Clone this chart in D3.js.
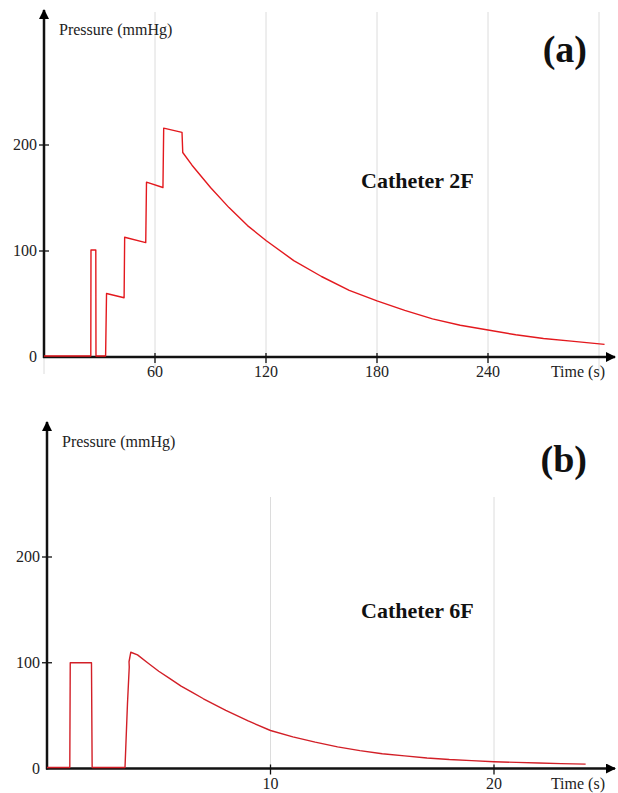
<!DOCTYPE html>
<html>
<head>
<meta charset="utf-8">
<script src="https://cdn.jsdelivr.net/npm/d3@7"></script>
<style>
  body { margin: 0; background: #fff; }
  svg { display: block; font-family: "Liberation Serif", "Times New Roman", serif; }
</style>
</head>
<body>
<svg id="chart" width="618" height="793"></svg>
<script>
// panel (a): catheter 2F, time in s, pressure in mmHg
const timeA = [0, 25.3, 25.4, 28.0, 28.1, 33.3, 33.8, 43.3, 43.6, 55.0, 55.4, 64.3, 64.7, 74.6, 75.0,
  80, 90, 100, 110, 120, 135, 150, 165, 180, 195, 210, 225, 240, 255, 270, 285, 303];
const pressureA = [0, 0, 100, 100, 0, 0, 59, 55, 112, 107, 164, 159, 215, 211, 192,
  180, 159, 140, 123, 109, 90, 75, 62, 52, 43, 35, 29, 24.5, 20, 16.5, 14, 11];
const ticksXA = [60, 120, 180, 240];
const gridXA = [0, 60, 120, 180, 240, 300];

// panel (b): catheter 6F
const timeB = [0, 1.02, 1.04, 1.99, 2.02, 3.49, 3.6, 3.68, 3.67, 3.75, 4.05, 4.5, 5.0, 5.5, 6.0, 6.5, 7.0,
  8, 9, 10, 11, 12, 13, 14, 15, 16, 17, 18, 19, 20, 21, 22, 23, 24.1];
const pressureB = [0, 0, 99, 99, 0, 0, 60, 95, 100, 109, 106.5, 99, 91, 84, 77, 71, 65,
  54, 44, 35, 29, 24, 19.5, 16, 13, 11, 9, 7.5, 6.5, 5.5, 4.8, 4.2, 3.7, 3.2];
const ticksXB = [10, 20];
const gridXB = [0, 10, 20];

const ticksY = [0, 100, 200];

const svg = d3.select('#chart');

svg.append('defs').append('marker')
  .attr('id', 'arrow')
  .attr('viewBox', '0 0 10 10')
  .attr('refX', 9).attr('refY', 5)
  .attr('markerWidth', 4).attr('markerHeight', 4)
  .attr('orient', 'auto')
  .append('path')
  .attr('d', 'M0,0 L10,5 L0,10 z')
  .attr('fill', '#000');

function drawPanel(opt) {
  const g = svg.append('g');
  const x = opt.x, y = opt.y;
  const x0 = x(0), y0 = y(0);

  // grid
  g.selectAll('.grid')
    .data(opt.grid)
    .enter()
    .append('line')
    .attr('x1', d => x(d)).attr('x2', d => x(d))
    .attr('y1', opt.gridTop).attr('y2', opt.gridBottom)
    .attr('stroke', '#dcdcdc')
    .attr('stroke-width', 1);

  // axes with arrows
  g.append('line')
    .attr('x1', x0 - 1).attr('x2', opt.xEnd)
    .attr('y1', y0).attr('y2', y0)
    .attr('stroke', '#111').attr('stroke-width', 2.5)
    .attr('marker-end', 'url(#arrow)');
  g.append('line')
    .attr('x1', x0).attr('x2', x0)
    .attr('y1', y0 + 1).attr('y2', opt.yEnd)
    .attr('stroke', '#111').attr('stroke-width', 2.5)
    .attr('marker-end', 'url(#arrow)');

  // curve, drawn over the axis so the zero stretch stays visible
  const pts = opt.time.map((t, i) => [t, opt.pressure[i]]);
  g.append('path')
    .datum(pts)
    .attr('transform', 'translate(0,-1)')
    .attr('fill', 'none')
    .attr('stroke', opt.color)
    .attr('stroke-width', 1.4)
    .attr('stroke-linejoin', 'round')
    .attr('d', d3.line().x(d => x(d[0])).y(d => y(d[1])));

  // y ticks
  g.selectAll('.ytick')
    .data(ticksY.filter(d => d > 0))
    .enter()
    .append('line')
    .attr('x1', x0 - 5).attr('x2', x0 + 5)
    .attr('y1', d => y(d)).attr('y2', d => y(d))
    .attr('stroke', '#111').attr('stroke-width', 1.3);

  g.selectAll('.ylab')
    .data(ticksY)
    .enter()
    .append('text')
    .attr('x', x0 - 7)
    .attr('y', d => y(d) + 5)
    .attr('text-anchor', 'end')
    .attr('font-size', 16)
    .attr('fill', '#222')
    .text(d => d);

  // x ticks
  g.selectAll('.xtick')
    .data(opt.ticks)
    .enter()
    .append('line')
    .attr('x1', d => x(d)).attr('x2', d => x(d))
    .attr('y1', y0 - 4).attr('y2', y0 + 6)
    .attr('stroke', '#111').attr('stroke-width', 1.3);

  g.selectAll('.xlab')
    .data(opt.ticks)
    .enter()
    .append('text')
    .attr('x', d => x(d))
    .attr('y', y0 + 20)
    .attr('text-anchor', 'middle')
    .attr('font-size', 16)
    .attr('fill', '#222')
    .text(d => d);

  g.append('text')
    .attr('x', 605).attr('y', y0 + 20)
    .attr('text-anchor', 'end')
    .attr('font-size', 16)
    .attr('fill', '#222')
    .text('Time (s)');

  g.append('text')
    .attr('x', x0 + 15).attr('y', opt.yEnd + 25)
    .attr('font-size', 16)
    .attr('fill', '#222')
    .text('Pressure (mmHg)');

  g.append('text')
    .attr('x', 361).attr('y', opt.nameY)
    .attr('font-size', 22)
    .attr('font-weight', 'bold')
    .attr('fill', '#111')
    .text(opt.name);

  g.append('text')
    .attr('x', 587).attr('y', opt.tagY)
    .attr('text-anchor', 'end')
    .attr('font-size', 38)
    .attr('font-weight', 'bold')
    .attr('fill', '#111')
    .text(opt.tag);
}

drawPanel({
  time: timeA, pressure: pressureA,
  x: d3.scaleLinear().domain([0, 60]).range([44, 155]),
  y: d3.scaleLinear().domain([0, 200]).range([357, 145]),
  ticks: ticksXA, grid: gridXA,
  gridTop: 12, gridBottom: 374,
  xEnd: 615, yEnd: 10,
  color: '#e3191e',
  name: 'Catheter 2F', nameY: 188,
  tag: '(a)', tagY: 62
});

drawPanel({
  time: timeB, pressure: pressureB,
  x: d3.scaleLinear().domain([0, 10]).range([47, 270.5]),
  y: d3.scaleLinear().domain([0, 200]).range([768.5, 557]),
  ticks: ticksXB, grid: gridXB,
  gridTop: 497, gridBottom: 768,
  xEnd: 615, yEnd: 422,
  color: '#d21f27',
  name: 'Catheter 6F', nameY: 618,
  tag: '(b)', tagY: 472
});
</script>
</body>
</html>
